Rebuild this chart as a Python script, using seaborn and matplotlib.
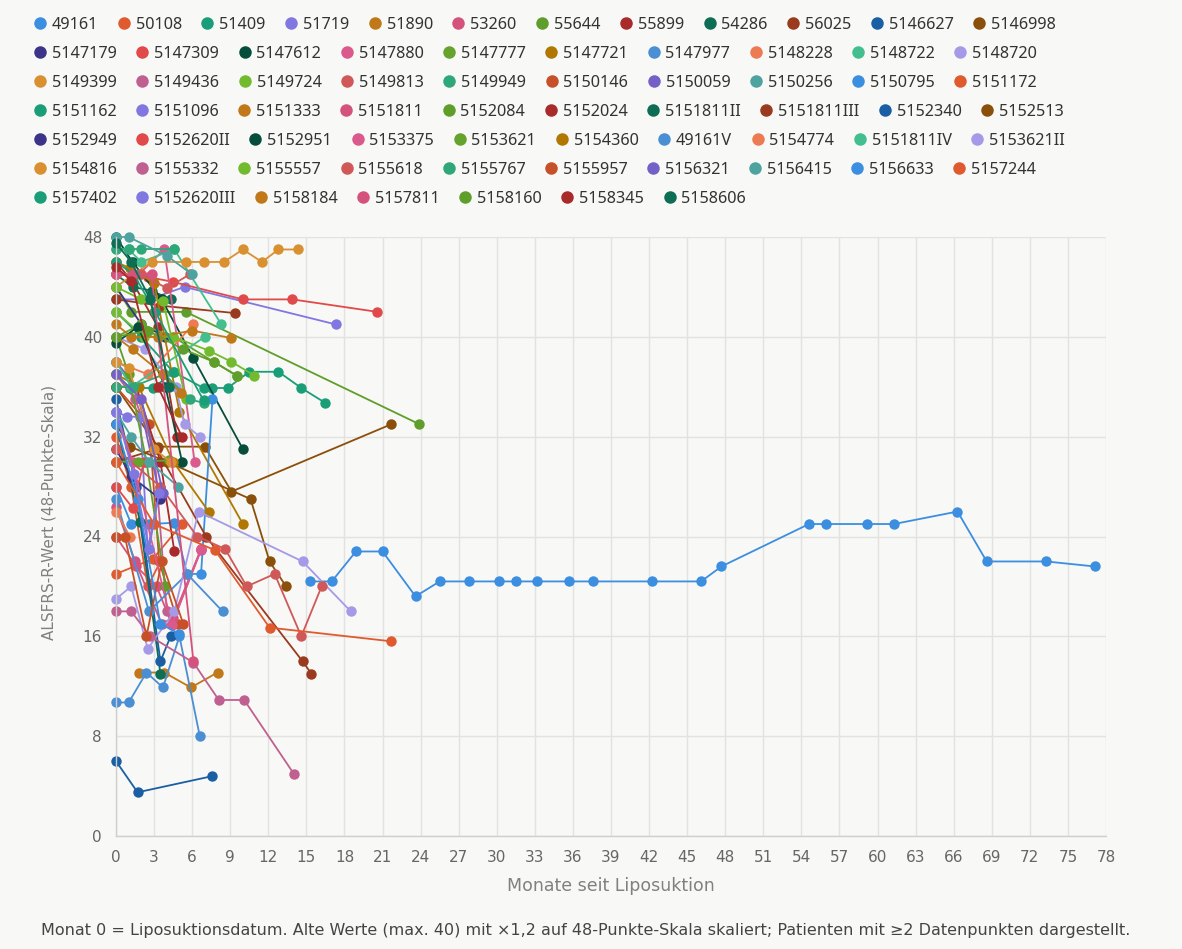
import matplotlib
matplotlib.use("Agg")
import matplotlib.pyplot as plt
from matplotlib.lines import Line2D
import pandas as pd
import seaborn as sns

# colour cycle of the original chart (30 colours, repeats)
PALETTE = [
    "#3b8ee0", "#e05a2f", "#1a9e77", "#8177e0", "#c07818", "#d6527e",
    "#5f9e2a", "#a82a2a", "#0e6e55", "#9a3a1e", "#1a5ea3", "#8a4f0a",
    "#3b3488", "#e04a4a", "#064e3b", "#db5a8e", "#65a32e", "#b07800",
    "#4a8ed4", "#ec7a52", "#43bf8f", "#a59ae8", "#d99030", "#c06090",
    "#72bb2e", "#d05858", "#2ea878", "#c85028", "#7560c8", "#4ea3a0",
]

PATIENTS = [
    "49161", "50108", "51409", "51719", "51890", "53260", "55644", "55899",
    "54286", "56025", "5146627", "5146998",
    "5147179", "5147309", "5147612", "5147880", "5147777", "5147721",
    "5147977", "5148228", "5148722", "5148720",
    "5149399", "5149436", "5149724", "5149813", "5149949", "5150146",
    "5150059", "5150256", "5150795", "5151172",
    "5151162", "5151096", "5151333", "5151811", "5152084", "5152024",
    "5151811II", "5151811III", "5152340", "5152513",
    "5152949", "5152620II", "5152951", "5153375", "5153621", "5154360",
    "49161V", "5154774", "5151811IV", "5153621II",
    "5154816", "5155332", "5155557", "5155618", "5155767", "5155957",
    "5156321", "5156415", "5156633", "5157244",
    "5157402", "5152620III", "5158184", "5157811", "5158160", "5158345",
    "5158606",
]

# legend is laid out in rows like the original
LEGEND_ROWS = [12, 10, 10, 10, 10, 10, 7]

# (month, score) pairs per patient
SERIES = {
    "49161": [(15.3, 20.4), (17.0, 20.4), (18.9, 22.8), (21.0, 22.8), (23.6, 19.2),
              (25.5, 20.4), (27.8, 20.4), (30.2, 20.4), (31.5, 20.4), (33.2, 20.4),
              (35.7, 20.4), (37.6, 20.4), (42.2, 20.4), (46.1, 20.4), (47.7, 21.6),
              (54.6, 25.0), (55.9, 25.0), (59.2, 25.0), (61.3, 25.0), (66.3, 26.0),
              (68.6, 22.0), (73.3, 22.0), (77.1, 21.6)],
    "50108": [(0, 21), (2.9, 22.2), (5.2, 25)],
    "51409": [(0, 42), (2.0, 40), (4.5, 37.2), (6.9, 35.9), (7.6, 35.9), (8.8, 35.9),
              (10.5, 37.2), (12.8, 37.2), (14.6, 35.9), (16.5, 34.7)],
    "51719": [(0, 43), (2.6, 43), (5.4, 44), (17.3, 41)],
    "51890": [(1.8, 13.1), (3.8, 13.1), (5.9, 11.9), (8.0, 13.1)],
    "53260": [(0, 24), (1.6, 21.6), (3.2, 20), (4.4, 17), (6.7, 22.9)],
    "55644": [(0, 44), (1.2, 42), (3.0, 42), (5.5, 42), (23.9, 33)],
    "55899": [(0, 46), (1.3, 44.4), (3.3, 40.8), (4.8, 32)],
    "54286": [(0, 45), (1.3, 44), (2.8, 43.7), (4.3, 43)],
    "56025": [(0, 43), (3.5, 42.5), (9.4, 41.9)],
    "5146627": [(0, 6.0), (1.7, 3.5), (7.6, 4.8)],
    "5146998": [(0, 36), (3.3, 31.2), (7.0, 31.2), (9.1, 27.6), (21.7, 33)],
    "5147179": [(0, 44), (2.0, 41), (3.9, 40)],
    "5147309": [(0, 45), (2.5, 44.8), (4.5, 44.4), (10.0, 43), (13.9, 43), (20.6, 42)],
    "5147612": [(0, 48), (1.3, 46), (3.6, 43), (6.1, 38.3), (10.0, 31)],
    "5147880": [(0, 45), (1.8, 45), (3.8, 47), (6.2, 30)],
    "5147777": [(0, 40), (2.0, 41), (4.5, 40), (7.7, 38), (9.5, 36.9)],
    "5147721": [(0, 46), (1.1, 45.5), (3.0, 44.3), (5.0, 34), (10.0, 25)],
    "5147977": [(0, 10.7), (1.0, 10.7), (2.4, 13.1), (3.7, 11.9), (5.0, 16), (6.6, 8)],
    "5148228": [(0, 38), (2.5, 37), (6.1, 41)],
    "5148722": [(0, 47), (1.0, 47), (2.0, 46), (4.6, 47), (8.3, 41)],
    "5148720": [(0, 40), (2.3, 39), (4.7, 36), (5.4, 33), (6.6, 32)],
    "5149399": [(0, 44), (2.8, 46), (5.5, 46), (6.9, 46), (8.5, 46), (10.0, 47),
                (11.5, 46), (12.8, 47), (14.3, 47)],
    "5149436": [(0, 37), (1.5, 35), (3.0, 31), (4.0, 18)],
    "5149724": [(0, 42), (2.2, 40), (4.5, 40), (7.3, 38.9), (9.1, 38), (10.9, 36.9)],
    "5149813": [(0, 45), (2.0, 45), (4.0, 43.9), (5.8, 45)],
    "5149949": [(0, 47), (1.0, 47), (2.0, 47), (4.6, 47)],
    "5150146": [(0, 36), (2.6, 33), (3.4, 22), (4.9, 17)],
    "5150059": [(0, 38), (1.6, 36), (3.4, 27.5)],
    "5150256": [(0, 48), (1.0, 48), (4.0, 46.5), (6.0, 45)],
    "5150795": [(0, 28), (1.2, 25), (2.6, 25), (4.6, 25.1), (5.6, 21), (6.7, 21), (7.6, 35)],
    "5151172": [(0, 32), (1.2, 28), (2.5, 20), (3.5, 22)],
    "5151162": [(0, 37), (1.1, 35.9), (2.9, 35.9), (4.6, 37.2)],
    "5151096": [(0, 34), (0.9, 33.6), (1.9, 33.6), (2.5, 23), (3.5, 28)],
    "5151333": [(0, 41), (1.2, 40), (3.3, 40), (6.0, 40.5), (9.1, 39.9)],
    "5151811": [(0, 26.4), (1.5, 22), (3.6, 17), (4.5, 17.5), (6.7, 23)],
    "5152084": [(0, 40), (1.0, 37), (2.4, 30), (3.9, 20)],
    "5152024": [(0, 36), (1.6, 36), (3.5, 30), (4.6, 22.8)],
    "5151811II": [(0, 33), (1.9, 25.2), (3.5, 13)],
    "5151811III": [(0, 30), (3.2, 31), (7.1, 24), (14.7, 14), (15.4, 13)],
    "5152340": [(0, 35), (1.6, 28), (3.5, 14), (4.3, 16)],
    "5152513": [(0, 33), (1.1, 31.2), (4.0, 30), (10.6, 27), (12.1, 22), (13.4, 20)],
    "5152949": [(0, 31), (1.2, 28.8), (3.5, 27)],
    "5152620II": [(0, 28), (1.3, 26.3), (2.2, 30)],
    "5152951": [(0, 39.5), (1.7, 40.8), (3.9, 36), (5.2, 30)],
    "5153375": [(0, 34), (1.3, 30), (4.4, 16.9), (6.7, 23)],
    "5153621": [(0, 30), (1.7, 30), (4.2, 30.1)],
    "5154360": [(0, 37), (1.8, 36), (4.5, 30), (7.3, 26)],
    "49161V": [(0, 27), (2.6, 18), (5.6, 21), (8.4, 18)],
    "5154774": [(0, 26), (1.1, 24)],
    "5151811IV": [(0, 38), (1.2, 36), (7.0, 40)],
    "5153621II": [(0, 19), (1.2, 20), (2.5, 15), (4.6, 18), (6.5, 26), (14.7, 22), (18.5, 18)],
    "5154816": [(0, 38), (1.0, 37.5), (3.0, 31), (4.3, 30)],
    "5155332": [(0, 18), (1.2, 18), (2.7, 16), (6.1, 13.9), (8.1, 10.9), (10.1, 10.9), (14.0, 5.0)],
    "5155557": [(0, 44), (2.0, 43), (3.7, 42.9), (5.5, 35)],
    "5155618": [(0, 31), (3.5, 28), (6.4, 24), (8.6, 23), (10.3, 20), (12.5, 21),
                (14.6, 16), (16.2, 20)],
    "5155767": [(0, 36), (1.3, 36), (3.8, 37), (5.8, 35), (6.9, 34.7)],
    "5155957": [(0, 24), (0.7, 24), (2.4, 16), (3.6, 22), (5.3, 17)],
    "5156321": [(0, 37), (2.0, 35), (3.7, 27.5)],
    "5156415": [(0, 34), (1.2, 32), (2.6, 30), (4.9, 28)],
    "5156633": [(0, 33), (1.7, 27), (3.5, 17), (5.0, 16.2)],
    "5157244": [(0, 30), (3.0, 25), (7.8, 22.9), (12.1, 16.7), (21.7, 15.6)],
    "5157402": [(0, 46), (1.4, 45), (3.1, 42), (6.9, 34.9)],
    "5152620III": [(0, 34), (1.4, 29), (2.6, 23), (3.4, 27.5)],
    "5158184": [(0, 40), (1.3, 39), (3.7, 37), (5.1, 35.5)],
    "5157811": [(0, 45), (1.3, 45), (2.8, 45), (6.1, 14)],
    "5158160": [(0, 40), (2.5, 40.5), (5.3, 39), (7.7, 38), (9.5, 36.9)],
    "5158345": [(0, 45.6), (1.2, 44.5), (3.3, 36), (5.2, 32)],
    "5158606": [(0, 47.5), (1.2, 46), (2.7, 43), (4.2, 36)],
}

X_TICKS = list(range(0, 79, 3))
Y_TICKS = [0, 8, 16, 24, 32, 40, 48]

BG = "#f8f8f6"
W, H = 1182, 949

sns.set_theme(style="whitegrid")
plt.rcParams["font.family"] = ["DejaVu Sans"]

rows = [(p, m, v) for p in PATIENTS for m, v in SERIES[p]]
df = pd.DataFrame(rows, columns=["patient", "month", "score"])
colors = {p: PALETTE[i % len(PALETTE)] for i, p in enumerate(PATIENTS)}

fig = plt.figure(figsize=(W / 100, H / 100), dpi=100, facecolor=BG)
ax = fig.add_axes([116 / W, 1 - 836 / H, 990 / W, 599 / H], facecolor=BG)

sns.lineplot(data=df, x="month", y="score", hue="patient", hue_order=PATIENTS,
             palette=colors, estimator=None, sort=False, legend=False,
             marker="o", markersize=7.5, markeredgewidth=0, linewidth=1.3,
             clip_on=False, ax=ax)

ax.set_xlim(0, 78)
ax.set_ylim(0, 48)
ax.set_xticks(X_TICKS)
ax.set_yticks(Y_TICKS)
ax.grid(True, color="#e2e2e0", linewidth=1)
for side in ("top", "right"):
    ax.spines[side].set_visible(False)
for side in ("left", "bottom"):
    ax.spines[side].set_color("#cfcfcd")
    ax.spines[side].set_linewidth(1)
ax.tick_params(axis="both", length=7, width=1, color="#dcdcda",
               labelsize=11, labelcolor="#666666", pad=3)
ax.set_xlabel("Monate seit Liposuktion", fontsize=12.5, color="#808080", labelpad=9)
ax.set_ylabel("ALSFRS-R-Wert (48-Punkte-Skala)", fontsize=11, color="#808080")
ax.yaxis.set_label_coords(-0.06, 0.54)

# legend, one row at a time so entries flow like the original
start = 0
for r, n in enumerate(LEGEND_ROWS):
    names = PATIENTS[start:start + n]
    handles = [Line2D([], [], linestyle="none", marker="o", markersize=9,
                      markeredgewidth=0, color=colors[p]) for p in names]
    fig.legend(handles, names, loc="upper left", ncol=n, frameon=False,
               bbox_to_anchor=(34 / W, 1 - (17 + 29 * r) / H),
               borderaxespad=0, borderpad=0, handlelength=0.75, handletextpad=0.35,
               columnspacing=1.2, prop={"family": "Noto Sans", "size": 11.7},
               labelcolor="#333333")
    start += n

fig.text(41 / W, 1 - 931 / H,
         "Monat 0 = Liposuktionsdatum. Alte Werte (max. 40) mit ×1,2 auf 48-Punkte-Skala "
         "skaliert; Patienten mit ≥2 Datenpunkten dargestellt.",
         fontsize=11.5, color="#444444", va="center", ha="left")

fig.savefig("out.png", dpi=100, facecolor=BG)
plt.close(fig)
